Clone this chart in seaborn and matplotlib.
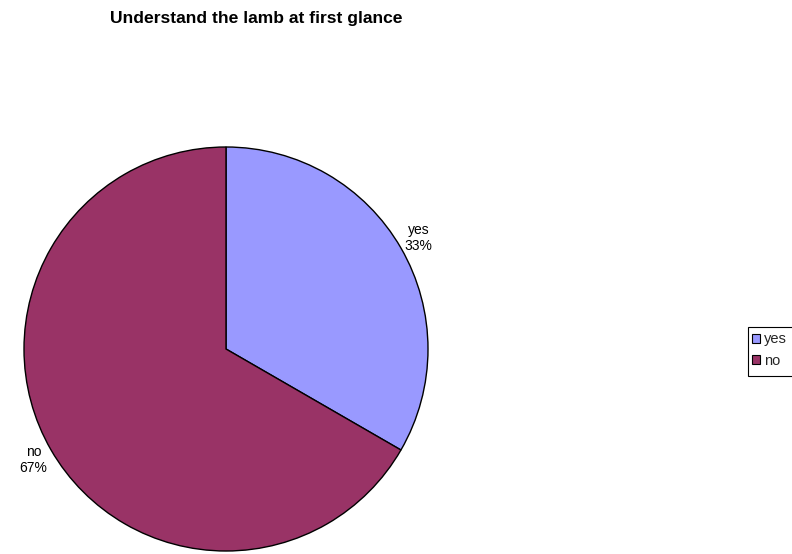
import matplotlib
matplotlib.use("Agg")
import matplotlib.pyplot as plt
from matplotlib.patches import Rectangle
import seaborn as sns
import numpy as np

categories = ["yes", "no"]
counts = [1, 2]
colors = ["#9999FF", "#993366"]
title = "Understand the lamb at first glance"

sns.set_theme(style="white")
plt.rcParams["font.family"] = ["Liberation Sans", "DejaVu Sans"]

W, H = 792, 554
fig = plt.figure(figsize=(W / 100, H / 100), dpi=100)
fig.patch.set_facecolor("white")

# pie axes: center (226, 349), radius 202 px
cx, cy, r = 226, 349, 202
ax = fig.add_axes([(cx - r) / W, (H - cy - r) / H, 2 * r / W, 2 * r / H])
ax.axis("off")

wedges, _ = ax.pie(
    counts,
    colors=colors,
    startangle=90,
    counterclock=False,
    radius=1,
    wedgeprops=dict(edgecolor="black", linewidth=1.0),
)
ax.set_xlim(-1, 1)
ax.set_ylim(-1, 1)
ax.set_aspect("equal")

total = sum(counts)
for w, cat, v in zip(wedges, categories, counts):
    ang = np.deg2rad((w.theta1 + w.theta2) / 2)
    d = 1.1
    ax.text(d * np.cos(ang), d * np.sin(ang), f"{cat}\n{v / total:.0%}",
            ha="center", va="center", fontsize=10, color="black",
            linespacing=1.25, clip_on=False)

fig.text(256.5 / W, 1 - 18 / H, title, ha="center", va="center",
         fontsize=12.6, fontweight="bold", color="black")

# legend box frame (runs past the right edge of the figure)
fig.patches.append(Rectangle((748 / W, 1 - 376 / H), 70 / W, 49 / H,
                             transform=fig.transFigure, facecolor="white",
                             edgecolor="black", linewidth=0.8, zorder=1))

leg = fig.legend(
    wedges, categories,
    loc="center left", bbox_to_anchor=(752 / W, 1 - 350 / H),
    frameon=False, fontsize=10.5,
    handlelength=0.55, handleheight=0.55, handletextpad=0.3,
    borderpad=0, labelspacing=0.5, borderaxespad=0,
)
leg.set_zorder(2)
for h in leg.legend_handles:
    h.set_linewidth(0.8)

fig.savefig("out.png", dpi=100, facecolor="white")
